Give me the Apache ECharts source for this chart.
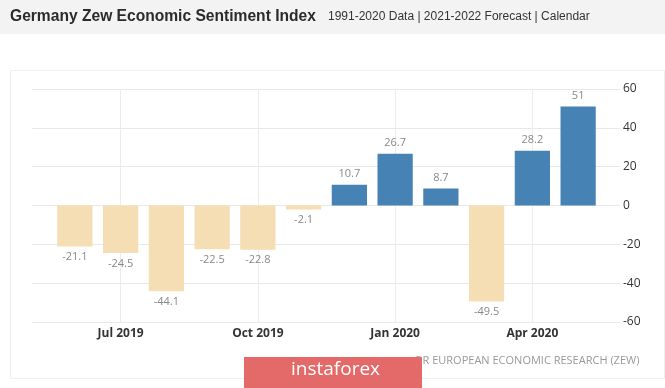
<!DOCTYPE html>
<html><head><meta charset="utf-8">
<script src="https://cdn.jsdelivr.net/npm/echarts@6/dist/echarts.min.js"></script>
<style>html,body{margin:0;padding:0;background:#fff}#c{width:665px;height:388px}</style>
</head><body><div id="c"></div>
<script>
const categories = ['Jun 2019','Jul 2019','Aug 2019','Sep 2019','Oct 2019','Nov 2019','Dec 2019','Jan 2020','Feb 2020','Mar 2020','Apr 2020','May 2020'];
const values = [-21.1,-24.5,-44.1,-22.5,-22.8,-2.1,10.7,26.7,8.7,-49.5,28.2,51];
const shownMonths = ['Jul 2019','Oct 2019','Jan 2020','Apr 2020'];
const yMin = -60, yMax = 60, yStep = 20;
const titleText = 'Germany Zew Economic Sentiment Index';
const subtitleText = '1991-2020 Data | 2021-2022 Forecast | Calendar';
const sourceText = 'OR EUROPEAN ECONOMIC RESEARCH (ZEW)';
const brandText = 'instaforex';

const POS = '#4682b4', NEG = '#f5deb3';
const showIdx = (i) => shownMonths.indexOf(categories[i]) >= 0;
const chart = echarts.init(document.getElementById('c'));
chart.setOption({
  backgroundColor: '#fff',
  animation: false,
  grid: [
    {left: 32, right: 45, top: 89, bottom: 66},
    {left: 52, right: 64, top: 89, bottom: 66}
  ],
  xAxis: [
    {type: 'category', gridIndex: 0, data: categories, show: false},
    {type: 'category', gridIndex: 1, data: categories,
     axisLine: {show: false}, axisTick: {show: false},
     axisLabel: {interval: (i) => showIdx(i), margin: 6, color: '#333', fontWeight: 'bold', fontSize: 12, fontFamily: 'Open Sans'},
     splitLine: {show: true, alignWithLabel: true, interval: (i) => showIdx(i), lineStyle: {color: '#ececec', width: 1}}
    }
  ],
  yAxis: [
    {type: 'value', gridIndex: 0, position: 'right', min: yMin, max: yMax, interval: yStep,
     axisLine: {show: false}, axisTick: {show: false},
     axisLabel: {margin: 3, color: '#333', fontSize: 12, fontFamily: 'Open Sans'},
     splitLine: {lineStyle: {color: '#e8e8e8', width: 1}}},
    {type: 'value', gridIndex: 1, min: yMin, max: yMax, interval: yStep, show: false, splitLine: {show: false}}
  ],
  series: [{
    type: 'bar', xAxisIndex: 1, yAxisIndex: 1,
    barCategoryGap: '23%',
    data: values.map(v => ({
      value: v,
      itemStyle: {color: v >= 0 ? POS : NEG},
      label: {position: v >= 0 ? 'top' : 'bottom'}
    })),
    label: {show: true, distance: 5, color: '#888', fontSize: 11, fontFamily: 'Open Sans'}
  }],
  graphic: [
    {type: 'rect', z: -10, shape: {x: 0, y: 0, width: 665, height: 34}, style: {fill: '#f3f3f3'}},
    {type: 'rect', z: -10, shape: {x: 10.5, y: 70.5, width: 654, height: 308}, style: {fill: 'none', stroke: '#efefef', lineWidth: 1}},
    {type: 'text', left: 10, top: 9, style: {text: titleText, fill: '#2b2b2b', font: 'bold 15.6px "Liberation Sans", Arial, sans-serif'}},
    {type: 'text', left: 328, top: 11, style: {text: subtitleText, fill: '#333', font: '12px "Liberation Sans", Arial, sans-serif'}},
    {type: 'text', left: 414, top: 355, style: {text: sourceText, fill: '#999', font: '11px "Open Sans", sans-serif'}},
    {type: 'rect', z: 100, shape: {x: 244, y: 357, width: 178, height: 31}, style: {fill: '#e46a6a'}},
    {type: 'text', z: 101, left: 291, top: 360, style: {text: brandText, fill: '#fff', font: '19px "Open Sans", sans-serif'}}
  ]
});
</script></body></html>
